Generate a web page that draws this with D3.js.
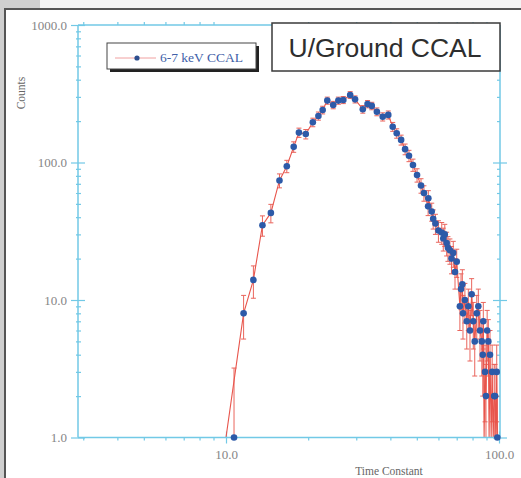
<!DOCTYPE html>
<html>
<head>
<meta charset="utf-8">
<script src="https://cdn.jsdelivr.net/npm/d3@7/dist/d3.min.js"></script>
<style>
  html, body { margin: 0; padding: 0; background: #cfcfcf; }
  svg { display: block; }
</style>
</head>
<body>
<svg id="chart" width="521" height="478"></svg>
<script>
// Time-constant distribution, 6-7 keV CCAL band (bins in acquisition order; 0 = empty bin)
const timeConst = [
  10.7, 10.0, 11.6, 12.6, 13.6, 14.6, 15.7, 16.7, 17.7, 18.5, 19.6,
  20.8, 21.8, 22.6, 23.5, 24.7, 25.8, 26.9, 28.5, 29.7, 31.7,
  33.0, 34.2, 35.7, 37.5, 39.3, 40.8, 42.2, 43.8, 45.3, 46.8,
  48.4, 50.1, 51.8, 53.1, 55.0, 55.1, 56.7, 57.4, 58.5, 60.0, 61.7,
  62.5, 63.3, 64.3, 65.0, 66.1, 67.0, 68.0, 69.0, 70.0, 71.9, 72.6, 73.4, 73.8,
  75.0, 76.2, 77.2, 78.3, 79.4, 80.5, 81.5, 82.9, 84.0, 85.2, 86.5, 87.2, 87.6,
  88.2, 88.9, 89.6, 90.5, 91.4, 92.0, 92.7, 93.6, 94.4, 95.2, 96.0, 96.7,
  97.4, 98.1, 98.6, 99.4
];
const counts = [
  1, 0, 8, 14, 35, 43, 74, 94, 130, 165, 161,
  196, 218, 241, 282, 262, 282, 285, 310, 288, 244,
  266, 258, 234, 215, 222, 182, 163, 146, 125, 112,
  96, 81, 68, 60, 48, 55, 44, 39, 36, 32, 31,
  28, 30, 26, 24, 23, 20, 22, 16, 19, 9, 12, 13, 8,
  10, 7, 9, 6, 11, 7, 5, 8, 9, 6, 5, 4, 7,
  0, 3, 2, 6, 5, 0, 4, 0, 3, 0, 2, 2,
  0, 3, 1, 0
];
const countErr = [
  2.2, 0, 2.8, 3.7, 5.9, 6.6, 8.6, 9.7, 11.4, 12.8, 12.7,
  14.0, 14.8, 15.5, 16.8, 16.2, 16.8, 16.9, 17.6, 17.0, 15.6,
  16.3, 16.1, 15.3, 14.7, 14.9, 13.5, 12.8, 12.1, 11.2, 10.6,
  9.8, 9.0, 8.2, 7.7, 6.9, 7.4, 6.6, 6.2, 6.0, 5.7, 5.6,
  5.3, 5.5, 5.1, 4.9, 4.8, 4.5, 4.7, 4.0, 4.4, 3.0, 3.5, 3.6, 2.8,
  3.2, 2.6, 3.0, 2.4, 3.3, 2.6, 2.2, 2.8, 3.0, 2.4, 2.2, 2.0, 2.6,
  0, 1.7, 1.4, 2.4, 2.2, 0, 2.0, 0, 1.7, 0, 1.4, 1.4,
  0, 1.7, 1.0, 0
];
const xTickValues = [10, 100];
const xTickLabels = ["10.0", "100.0"];
const yTickValues = [1, 10, 100, 1000];
const yTickLabels = ["1.0", "10.0", "100.0", "1000.0"];
const seriesName = "6-7 keV CCAL";
const chartTitle = "U/Ground CCAL";
const xTitle = "Time Constant";
const yTitle = "Counts";

const data = timeConst.map((t, i) => ({ t, c: counts[i], e: countErr[i] }));

const svg = d3.select("#chart");
const AXIS = "#72c9e6", RED = "#e8554c", BLUE = "#2d5aa8", LABEL = "#858585";

// page frame
svg.append("rect").attr("x", 0).attr("y", 0).attr("width", 521).attr("height", 478).attr("fill", "#cfcfcf");
svg.append("rect").attr("x", 40).attr("y", 0).attr("width", 481).attr("height", 8).attr("fill", "#f4f4f4");
svg.append("rect").attr("x", 6).attr("y", 10).attr("width", 515).attr("height", 468).attr("fill", "#ffffff");
svg.append("line").attr("x1", 4).attr("x2", 521).attr("y1", 9).attr("y2", 9).attr("stroke", "#555").attr("stroke-width", 2);
svg.append("line").attr("x1", 5).attr("x2", 5).attr("y1", 9).attr("y2", 478).attr("stroke", "#555").attr("stroke-width", 2);

// scales: log-log
const x = d3.scaleLog().domain([10, 100]).range([226, 499]);
const y = d3.scaleLog().domain([1, 1000]).range([437.5, 25]);
const plotLeft = 78, plotRight = 500;
const plotTop = y(1000), plotBottom = y(1);
const yFloor = v => y(Math.max(v, 1));   // empty bins / lower error ends sit on the axis floor

// plot frame lines
const g = svg.append("g");
g.append("line").attr("x1", plotLeft).attr("x2", plotLeft).attr("y1", plotTop).attr("y2", plotBottom).attr("stroke", AXIS).attr("stroke-width", 1.5);
g.append("line").attr("x1", plotRight).attr("x2", plotRight).attr("y1", plotTop).attr("y2", plotBottom).attr("stroke", AXIS).attr("stroke-width", 1.5);
g.append("line").attr("x1", plotLeft).attr("x2", plotRight).attr("y1", plotTop).attr("y2", plotTop).attr("stroke", AXIS).attr("stroke-width", 1.5);

// minor tick positions
const yMinor = [];
[1, 10, 100].forEach(d => { for (let k = 2; k <= 9; k++) yMinor.push(d * k); });
const xMinor = [];
[1, 10].forEach(d => { for (let k = 2; k <= 9; k++) { const v = d * k; if (x(v) > plotLeft + 2 && x(v) < plotRight - 2) xMinor.push(v); } });

function styleAxis(sel) {
  sel.select(".domain").remove();
  sel.selectAll(".tick line").attr("stroke", AXIS).attr("stroke-width", 1.2);
  sel.selectAll(".tick text").attr("fill", LABEL)
    .style("font-family", "'Liberation Serif', 'Times New Roman', serif").style("font-size", "13px");
}

// left axis with labels
svg.append("g").attr("transform", `translate(${plotLeft},0)`)
  .call(d3.axisLeft(y).tickValues(yTickValues).tickSize(7).tickPadding(4)
    .tickFormat((d, i) => yTickLabels[i])).call(styleAxis);
svg.append("g").attr("transform", `translate(${plotLeft},0)`)
  .call(d3.axisRight(y).tickValues(yTickValues).tickSize(7).tickFormat("")).call(styleAxis);
svg.append("g").attr("transform", `translate(${plotLeft},0)`)
  .call(d3.axisRight(y).tickValues(yMinor).tickSize(3).tickFormat("")).call(styleAxis);
svg.append("g").attr("transform", `translate(${plotLeft},0)`)
  .call(d3.axisLeft(y).tickValues(yMinor).tickSize(2).tickFormat("")).call(styleAxis);

// right axis ticks
svg.append("g").attr("transform", `translate(${plotRight},0)`)
  .call(d3.axisRight(y).tickValues(yTickValues.slice(0, 3)).tickSize(7).tickFormat("")).call(styleAxis);
svg.append("g").attr("transform", `translate(${plotRight},0)`)
  .call(d3.axisLeft(y).tickValues(yTickValues.slice(0, 3)).tickSize(7).tickFormat("")).call(styleAxis);
svg.append("g").attr("transform", `translate(${plotRight},0)`)
  .call(d3.axisLeft(y).tickValues(yMinor).tickSize(3).tickFormat("")).call(styleAxis);

// bottom axis with labels
svg.append("g").attr("transform", `translate(0,${plotBottom})`)
  .call(d3.axisBottom(x).tickValues(xTickValues).tickSize(6).tickPadding(6)
    .tickFormat((d, i) => xTickLabels[i])).call(styleAxis);
svg.append("g").attr("transform", `translate(0,${plotBottom})`)
  .call(d3.axisTop(x).tickValues(xTickValues).tickSize(6).tickFormat("")).call(styleAxis);
svg.append("g").attr("transform", `translate(0,${plotBottom})`)
  .call(d3.axisBottom(x).tickValues(xMinor).tickSize(3).tickFormat("")).call(styleAxis);
svg.append("g").attr("transform", `translate(0,${plotTop})`)
  .call(d3.axisTop(x).tickValues(xMinor).tickSize(3).tickFormat("")).call(styleAxis);

// axis titles
svg.append("text").attr("x", 389).attr("y", 475).attr("text-anchor", "middle")
  .attr("fill", "#666").style("font-family", "'Liberation Serif', serif").style("font-size", "11.5px")
  .text(xTitle);
svg.append("text").attr("transform", "translate(25,93) rotate(-90)").attr("text-anchor", "middle")
  .attr("fill", "#666").style("font-family", "'Liberation Serif', serif").style("font-size", "11.5px")
  .text(yTitle);

// error bars
const eb = svg.append("g").attr("stroke", RED).attr("stroke-width", 1).attr("fill", "none").attr("opacity", 0.9);
data.filter(d => d.e > 0).forEach(d => {
  const x0 = x(d.t), y1 = yFloor(d.c + d.e), y2 = yFloor(d.c - d.e);
  eb.append("line").attr("x1", x0).attr("x2", x0).attr("y1", y1).attr("y2", y2);
  eb.append("line").attr("x1", x0 - 2.5).attr("x2", x0 + 2.5).attr("y1", y1).attr("y2", y1);
  eb.append("line").attr("x1", x0 - 2.5).attr("x2", x0 + 2.5).attr("y1", y2).attr("y2", y2);
});

// connecting line
svg.append("path").datum(data)
  .attr("d", d3.line().x(d => x(d.t)).y(d => yFloor(d.c)))
  .attr("fill", "none").attr("stroke", RED).attr("stroke-width", 1.1);

// bottom axis line drawn over the line's floor segments
g.raise();
g.append("line").attr("x1", plotLeft).attr("x2", plotRight).attr("y1", plotBottom).attr("y2", plotBottom).attr("stroke", AXIS).attr("stroke-width", 1.5);

// markers (non-empty bins only)
svg.append("g").selectAll("circle").data(data.filter(d => d.c > 0)).join("circle")
  .attr("cx", d => x(d.t)).attr("cy", d => y(d.c)).attr("r", 3.3)
  .attr("fill", BLUE);

// legend
const lg = svg.append("g");
lg.append("rect").attr("x", 110).attr("y", 46).attr("width", 149).attr("height", 26).attr("fill", "#222");
lg.append("rect").attr("x", 107).attr("y", 43).attr("width", 149).attr("height", 26)
  .attr("fill", "#fff").attr("stroke", "#444").attr("stroke-width", 1);
lg.append("line").attr("x1", 115).attr("x2", 156).attr("y1", 58).attr("y2", 58).attr("stroke", "#f0a0a0").attr("stroke-width", 1);
lg.append("circle").attr("cx", 137).attr("cy", 58).attr("r", 2.6).attr("fill", "#2d4f8f");
lg.append("text").attr("x", 160).attr("y", 62).attr("fill", "#4060a8")
  .style("font-family", "'Liberation Serif', serif").style("font-size", "13.5px").text(seriesName);

// title box
const tb = svg.append("g");
tb.append("rect").attr("x", 272).attr("y", 23).attr("width", 228).attr("height", 48)
  .attr("fill", "#fff").attr("stroke", "#3a3a3a").attr("stroke-width", 1.5);
tb.append("text").attr("x", 385).attr("y", 57).attr("text-anchor", "middle").attr("fill", "#2e2e2e")
  .style("font-family", "'Liberation Sans', Arial, sans-serif").style("font-size", "26.5px").text(chartTitle);
</script>
</body>
</html>
